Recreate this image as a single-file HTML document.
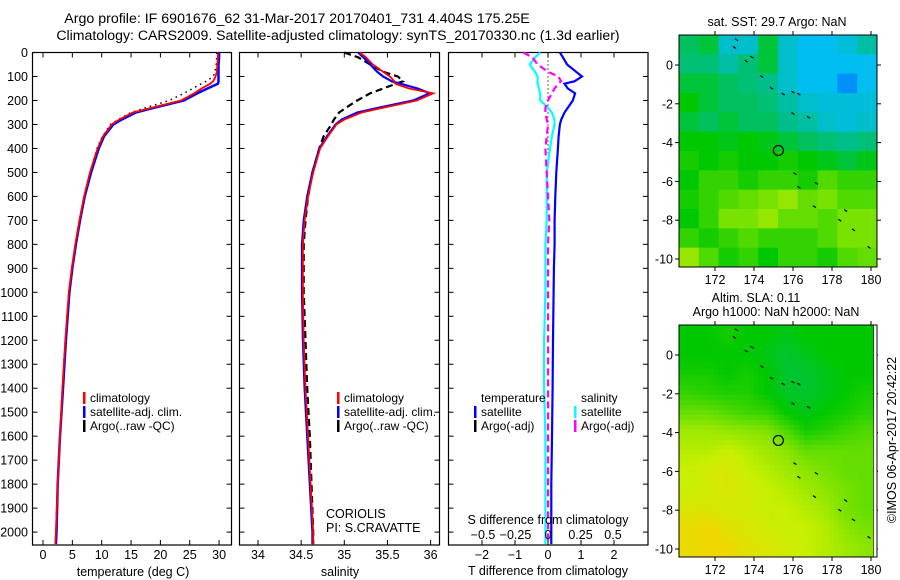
<!DOCTYPE html>
<html><head><meta charset="utf-8"><style>
html,body{margin:0;padding:0;background:#fff;}
svg{display:block;font-family:"Liberation Sans",sans-serif;}
text{fill:#000;}
</style></head><body>
<svg id="fig" width="900" height="580" viewBox="0 0 900 580" xmlns="http://www.w3.org/2000/svg">
<rect width="900" height="580" fill="#fff"/>
<text x="297" y="23" font-size="14.2" text-anchor="middle">Argo profile: IF 6901676_62 31-Mar-2017 20170401_731 4.404S 175.25E</text>
<text x="338" y="40" font-size="14.1" text-anchor="middle">Climatology: CARS2009. Satellite-adjusted climatology: synTS_20170330.nc (1.3d earlier)</text>
<g id="g"></g>
</svg>
<script>
// ---------- profile data ----------
const depths = [0,20,50,80,100,120,130,150,170,200,230,250,280,300,350,400,500,600,700,800,900,1000,1200,1400,1600,1800,2000,2050];
const tempClim = [29.8,29.8,29.7,29.6,29.4,29.0,28.5,27.0,25.8,23.5,18.5,15.3,13.0,11.7,10.2,9.3,8.0,7.0,6.2,5.5,4.9,4.4,3.8,3.3,2.9,2.5,2.2,2.1];
const tempSat  = [30.0,30.0,29.9,29.9,29.9,29.9,29.8,28.0,26.3,24.0,19.0,15.8,13.4,12.0,10.4,9.5,8.2,7.1,6.3,5.6,5.0,4.5,3.9,3.4,2.9,2.5,2.3,2.2];
const tempArgo = [29.6,29.6,29.5,29.3,29.0,27.8,27.0,25.5,24.0,21.5,17.5,15.0,12.8,11.5,10.1,9.2,8.0,7.0,6.2,5.5,4.9,4.4,3.8,3.3,2.9,2.5,2.2,2.2];
const salClim = [35.18,35.25,35.33,35.45,35.53,35.58,35.59,35.75,36.03,35.84,35.45,35.2,35.0,34.91,34.81,34.72,34.64,34.58,34.54,34.52,34.52,34.52,34.53,34.55,34.58,34.61,34.64,34.64];
const salSat  = [35.16,35.22,35.30,35.38,35.45,35.55,35.65,35.85,35.99,35.80,35.40,35.15,34.97,34.90,34.80,34.71,34.63,34.57,34.53,34.51,34.51,34.51,34.52,34.54,34.57,34.60,34.63,34.63];
const salArgo = [35.0,35.16,35.30,35.45,35.62,35.68,35.60,35.45,35.30,35.15,35.02,34.94,34.88,34.85,34.76,34.71,34.63,34.58,34.55,34.53,34.53,34.53,34.55,34.57,34.60,34.62,34.64,34.64];
const tDiffSat  = [0.36,0.45,0.58,0.85,1.03,0.8,0.5,0.6,0.82,0.75,0.6,0.5,0.4,0.36,0.32,0.3,0.25,0.22,0.2,0.2,0.18,0.17,0.15,0.14,0.12,0.1,0.1,0.1];
const sDiffSat  = [-0.06,-0.1,-0.14,-0.1,-0.08,-0.08,-0.08,-0.07,-0.06,-0.06,0.0,0.03,0.05,0.05,0.03,0.015,-0.01,-0.01,-0.01,-0.02,-0.02,-0.02,-0.03,-0.03,-0.02,-0.02,-0.02,-0.02];
const sDiffArgo = [-0.19,-0.12,-0.08,0.0,0.08,0.1,0.08,0.05,0.03,0.0,-0.02,-0.02,-0.01,0.0,-0.01,-0.02,-0.01,0.0,0.01,0.0,0.0,0.0,0.0,0.0,0.0,0.0,0.0,0.0];
const depthTicks = [0,100,200,300,400,500,600,700,800,900,1000,1100,1200,1300,1400,1500,1600,1700,1800,1900,2000];
const tempTicks = [0,5,10,15,20,25,30];
const salTicks = [34,34.5,35,35.5,36];
const tDiffTicks = [-2,-1,0,1,2];
const sDiffTicks = [-0.5,-0.25,0,0.25,0.5];
// ---------- map data (rows: north->south, cols: west->east) ----------
const sstGrid = [
[0.42,0.45,0.30,0.30,0.45,0.30,0.25,0.25,0.28,0.35],
[0.40,0.40,0.35,0.40,0.45,0.30,0.25,0.25,0.25,0.25],
[0.45,0.45,0.42,0.40,0.38,0.30,0.25,0.25,0.20,0.25],
[0.50,0.45,0.42,0.42,0.40,0.35,0.30,0.28,0.28,0.28],
[0.45,0.42,0.45,0.42,0.42,0.38,0.35,0.30,0.28,0.30],
[0.50,0.50,0.48,0.50,0.48,0.45,0.42,0.40,0.38,0.40],
[0.52,0.50,0.52,0.50,0.50,0.52,0.50,0.48,0.45,0.48],
[0.50,0.55,0.55,0.52,0.55,0.55,0.52,0.58,0.55,0.55],
[0.52,0.55,0.58,0.60,0.62,0.65,0.60,0.62,0.58,0.58],
[0.50,0.55,0.62,0.62,0.65,0.60,0.60,0.58,0.62,0.62],
[0.55,0.52,0.55,0.58,0.55,0.55,0.55,0.58,0.62,0.62],
[0.65,0.58,0.52,0.55,0.50,0.55,0.55,0.52,0.58,0.60]];
const slaGrid = [
[0.50,0.50,0.52,0.50,0.50,0.48,0.50,0.50,0.50,0.50],
[0.50,0.50,0.50,0.50,0.48,0.46,0.48,0.50,0.50,0.50],
[0.52,0.52,0.50,0.52,0.50,0.46,0.46,0.48,0.50,0.50],
[0.55,0.54,0.53,0.53,0.50,0.47,0.46,0.48,0.50,0.52],
[0.60,0.60,0.58,0.56,0.55,0.50,0.48,0.50,0.52,0.54],
[0.66,0.66,0.65,0.64,0.63,0.58,0.52,0.54,0.56,0.58],
[0.68,0.68,0.70,0.68,0.66,0.64,0.60,0.60,0.60,0.60],
[0.70,0.72,0.74,0.70,0.68,0.66,0.64,0.62,0.60,0.60],
[0.70,0.72,0.74,0.72,0.70,0.68,0.66,0.64,0.62,0.60],
[0.74,0.74,0.72,0.72,0.70,0.70,0.68,0.66,0.62,0.60],
[0.78,0.80,0.76,0.74,0.72,0.70,0.70,0.68,0.64,0.62],
[0.78,0.80,0.80,0.76,0.74,0.72,0.70,0.68,0.66,0.64]];
const lonTicks = [172,174,176,178,180];
const latTicks = [0,-2,-4,-6,-8,-10];
const argoLon = [175.25];
const argoLat = [-4.404];

const NS="http://www.w3.org/2000/svg";
const G=document.getElementById('g');
function mk(tag,attrs,parent){const e=document.createElementNS(NS,tag);for(const k in attrs)e.setAttribute(k,attrs[k]);(parent||G).appendChild(e);return e;}
function txt(s,x,y,size,anchor,parent){const e=mk('text',{x:x,y:y,'font-size':size,'text-anchor':anchor||'middle'},parent);e.textContent=s;return e;}

const yTop=52.5, yBot=545, d0=52.5, pxPerM=0.2398;
const yD=d=>d0+d*pxPerM;

function panel(name,x0,x1,xf,ticks,tickFmt,showDepthLabels){
  const p=mk('g',{});
  
  
  mk('rect',{x:x0,y:yTop,width:x1-x0,height:yBot-yTop,fill:'none',stroke:'#000','stroke-width':1.2},p);
  depthTicks.forEach(d=>{
    mk('line',{x1:x0,x2:x0+5,y1:yD(d),y2:yD(d),stroke:'#000'},p);
    mk('line',{x1:x1-5,x2:x1,y1:yD(d),y2:yD(d),stroke:'#000'},p);
    if(showDepthLabels){const t=txt(String(d),28,yD(d)+4.5,12.5,'end',p);
      }
  });
  if(ticks) ticks.forEach(v=>{
    mk('line',{x1:xf(v),x2:xf(v),y1:yTop,y2:yTop+5,stroke:'#000'},p);
    mk('line',{x1:xf(v),x2:xf(v),y1:yBot-5,y2:yBot,stroke:'#000'},p);
    const t=txt(tickFmt(v),xf(v),559,12.5,'middle',p);
    
  });
  return p;
}
function line(arrX,xf,color,w,dash,parent,name){
  const pts=depths.map((d,i)=>xf(arrX[i]).toFixed(1)+','+yD(d).toFixed(1)).join(' ');
  const e=mk('polyline',{points:pts,fill:'none',stroke:color,'stroke-width':w},parent);
  if(dash)e.setAttribute('stroke-dasharray',dash);
  
  
  return e;
}
function legend(items,x,y,parent){
  items.forEach((it,i)=>{
    if(it[1])mk('rect',{x:x,y:y+i*14-10,width:2.5,height:12,fill:it[1]},parent);
    const t=txt(it[0],x+7,y+i*14,12,'start',parent);
    
  });
}

const xT=v=>43+v*5.87;
const p1=panel('temperature-panel',32.5,231.5,xT,tempTicks,v=>String(v),true);
line(tempArgo,xT,'#000',1.5,'1.5,4',p1,'argo-temperature-line');
line(tempSat,xT,'#0000ff',2.5,null,p1,'satellite-temperature-line');
line(tempClim,xT,'#ff0000',1.8,null,p1,'climatology-temperature-line');
legend([['climatology','#f00'],['satellite-adj. clim.','#00f'],['Argo(..raw -QC)','#000']],83,402,p1);
{const t=txt('temperature (deg C)',133,576,12.5,'middle',p1);}

const xS=v=>258+(v-34)*86.3;
const p2=panel('salinity-panel',239.5,439.5,xS,salTicks,v=>String(v),false);
line(salArgo,xS,'#000',2.2,'7,4',p2,'argo-salinity-line');
line(salSat,xS,'#0000ff',2.2,null,p2,'satellite-salinity-line');
line(salClim,xS,'#ff0000',1.8,null,p2,'climatology-salinity-line');
legend([['climatology','#f00'],['satellite-adj. clim.','#00f'],['Argo(..raw -QC)','#000']],337,402,p2);
{let t=txt('CORIOLIS',326,518,12.5,'start',p2);
 t=txt('PI: S.CRAVATTE',326,532,12.5,'start',p2);
 t=txt('salinity',340,576,12.5,'middle',p2);}

const xTd=v=>548+v*33;
const xSd=v=>548+v*130;
const p3=panel('difference-panel',448.5,648,xTd,tDiffTicks,v=>v<0?'\u2212'+(-v):String(v),false);
{const z=mk('line',{x1:548,x2:548,y1:yTop,y2:yD(420),stroke:'#000','stroke-width':1.2,'stroke-dasharray':'1,3'},p3);
 }
line(tDiffSat,xTd,'#0000ff',2.2,null,p3,'satellite-temperature-diff-line');
line(sDiffSat,xSd,'#00ffff',2.2,null,p3,'satellite-salinity-diff-line');
line(sDiffArgo,xSd,'#ff00ff',2.2,'7,4',p3,'argo-salinity-diff-line');
sDiffTicks.forEach(v=>{const t=txt(v<0?'\u2212'+(-v):String(v),xSd(v),539,12.5,'middle',p3);
  });
{let t=txt('S difference from climatology',548,524,12.5,'middle',p3);
 t=txt('T difference from climatology',548,575,12.5,'middle',p3);
 t=txt('temperature',481,402,12,'start',p3);
 t=txt('salinity',581,402,12,'start',p3);}
legend([['satellite','#00f'],['Argo(-adj)','#000']],474,416,p3);
legend([['satellite','#0ff'],['Argo(-adj)','#f0f']],574,416,p3);

const cstops=[[0,[0,0,200]],[0.15,[0,100,255]],[0.25,[0,190,240]],[0.38,[0,190,140]],[0.5,[0,200,0]],[0.6,[100,222,0]],[0.7,[200,240,0]],[0.8,[240,215,0]],[0.9,[240,130,0]],[1,[200,0,0]]];
function cmap(v){for(let i=1;i<cstops.length;i++){if(v<=cstops[i][0]){const a=cstops[i-1],b=cstops[i],f=(v-a[0])/(b[0]-a[0]);
  return 'rgb('+a[1].map((c,k)=>Math.round(c+(b[1][k]-c)*f)).join(',')+')';}}return 'rgb(200,0,0)';}
function drawMap(name,grid,x0,x1,y0,y1,lat0y,smooth,tickLabelY){
  const m=mk('g',{});
  
  
  const lonX=lon=>715+(lon-172)*19.5;
  const latY=lat=>lat0y-lat*19.4;
  const rows=grid.length, cols=grid[0].length, cw=(x1-x0)/cols, rh=(y1-y0)/rows;
  if(!smooth){
    grid.forEach((r,i)=>r.forEach((v,j)=>{
      const c=mk('rect',{x:x0+j*cw,y:y0+i*rh,width:cw+0.5,height:rh+0.5,fill:cmap(v)},m);
      
      
    }));
  } else {
    const s=5;
    for(let y=y0;y<y1;y+=s)for(let x=x0;x<x1;x+=s){
      const fx=Math.min(Math.max((x+s/2-x0)/cw-0.5,0),cols-1), fy=Math.min(Math.max((y+s/2-y0)/rh-0.5,0),rows-1);
      const i=Math.min(Math.floor(fy),rows-2), j=Math.min(Math.floor(fx),cols-2), a=fy-i, b=fx-j;
      const v=grid[i][j]*(1-a)*(1-b)+grid[i][j+1]*(1-a)*b+grid[i+1][j]*a*(1-b)+grid[i+1][j+1]*a*b;
      const c=mk('rect',{x:x,y:y,width:Math.min(s,x1-x)+0.3,height:Math.min(s,y1-y)+0.3,fill:cmap(v)},m);
      
      
    }
  }
  [[173.1,1.3],[173.0,0.9],[173.6,0.2],[173.9,0.4],[174.4,-0.6],[174.9,-1.2],[175.5,-1.5],[176.0,-1.4],[176.3,-1.5],[176.0,-2.5],[176.8,-2.7],[176.1,-5.6],[176.3,-6.3],[177.2,-6.1],[177.1,-7.3],[178.7,-7.5],[178.4,-8.0],[179.1,-8.5],[179.9,-9.4]].forEach(p=>{
    mk('line',{x1:lonX(p[0])-1.5,y1:latY(p[1])-1,x2:lonX(p[0])+1.5,y2:latY(p[1])+1,stroke:'#000','stroke-width':1.2},m);
  });
  argoLon.forEach((lo,i)=>{const c=mk('circle',{cx:lonX(lo),cy:latY(argoLat[i]),r:5,fill:'none',stroke:'#000','stroke-width':1.2},m);
    });
  mk('rect',{x:x0,y:y0,width:x1-x0,height:y1-y0,fill:'none',stroke:'#000','stroke-width':1},m);
  lonTicks.forEach(l=>{const x=lonX(l);
    mk('line',{x1:x,x2:x,y1:y0-4,y2:y0,stroke:'#000'},m);mk('line',{x1:x,x2:x,y1:y1,y2:y1+4,stroke:'#000'},m);
    const t=txt(String(l),x,tickLabelY,12.5,'middle',m);});
  latTicks.forEach(l=>{const y=latY(l);
    mk('line',{x1:x0-4,x2:x0,y1:y,y2:y,stroke:'#000'},m);mk('line',{x1:x1,x2:x1+4,y1:y,y2:y,stroke:'#000'},m);
    const t=txt(l<0?'-'+(-l):String(l),673,y+4.5,12.5,'end',m);});
}
drawMap('sst-map',sstGrid,679,877,35,267,65,false,284);
drawMap('sla-map',slaGrid,679,874,325,557,355,true,574);
mk('rect',{x:874,y:325.5,width:3,height:231,fill:'#fff'});
mk('rect',{x:679,y:325,width:198,height:232,fill:'none',stroke:'#000','stroke-width':1});
{let t=txt('sat. SST: 29.7  Argo: NaN',777,26,12.5,'middle');
 t=txt('Altim. SLA: 0.11',756,302,12.5,'middle');
 t=txt('Argo h1000: NaN h2000: NaN',776,316,12.5,'middle');
 t=txt('\u00a9IMOS 06-Apr-2017 20:42:22',0,0,12.5,'middle');t.setAttribute('transform','translate(896,440) rotate(-90)');
 }
</script>
</body></html>
